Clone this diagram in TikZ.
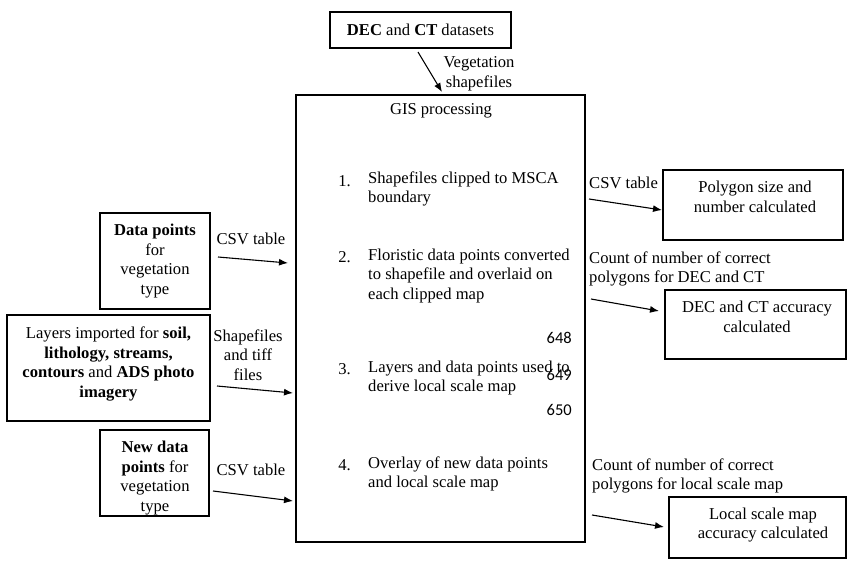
\documentclass[tikz,border=0pt]{standalone}
\usepackage{fontspec}
\setmainfont{Liberation Serif}
\newfontfamily\numfont{Carlito}
\usetikzlibrary{arrows.meta}
\begin{document}
\begin{tikzpicture}[x=1pt,y=-1pt,
  box/.style={draw, line width=1.2pt, inner sep=0pt},
  txt/.style={font=\fontsize{16.6}{19.5}\selectfont, inner sep=0pt, align=center},
  ltxt/.style={txt, align=left, anchor=west},
  arr/.style={line width=1.1pt, -{Latex[length=9pt,width=7pt]}},
  lnum/.style={font=\numfont\fontsize{16.5}{19}\selectfont, inner sep=0pt, anchor=east}]
\useasboundingbox (0,0) rectangle (847,563);
% boxes
\node[box, minimum width=289pt, minimum height=447pt] (gis) at (440.5,318.5) {};
\node[box, minimum width=181pt, minimum height=36pt] (dec) at (420.5,30) {};
\node[box, minimum width=110pt, minimum height=96pt] (dp) at (155,261) {};
\node[box, minimum width=203pt, minimum height=106pt] (lay) at (108.5,368) {};
\node[box, minimum width=109pt, minimum height=86pt] (ndp) at (154.5,473) {};
\node[box, minimum width=180pt, minimum height=70pt] (poly) at (753,205) {};
\node[box, minimum width=181pt, minimum height=69pt] (acc) at (755.5,324.5) {};
\node[box, minimum width=177pt, minimum height=61pt] (loc) at (757.5,527.5) {};
% box texts
\node[txt] (dect) at (dec) {\textbf{DEC} and \textbf{CT} datasets};
\node[txt] (dpt) at (155,261) {\textbf{Data points}\\for\\vegetation\\type};
\node[txt] (layt) at (108.5,364) {Layers imported for \textbf{soil,}\\\textbf{lithology, streams,}\\\textbf{contours} and \textbf{ADS photo}\\\textbf{imagery}};
\node[txt] (ndpt) at (155,478) {\textbf{New data}\\\textbf{points} for\\vegetation\\type};
\node[txt] (polyt) at (755,197) {Polygon size and\\number calculated};
\node[txt] (acct) at (757,317) {DEC and CT accuracy\\calculated};
\node[txt] (loct) at (763,525) {Local scale map\\accuracy calculated};
% GIS content
\node[txt] (gist) at (441,111) {GIS processing};
\node[txt, anchor=east] (n1) at (351,181) {1.};
\node[ltxt] (i1) at (368,189) {Shapefiles clipped to MSCA\\boundary};
\node[txt, anchor=east] (n2) at (351,257) {2.};
\node[ltxt] (i2) at (368,276) {Floristic data points converted\\to shapefile and overlaid on\\each clipped map};
\node[txt, anchor=east] (n3) at (351,369) {3.};
\node[ltxt] (i3) at (368,378) {Layers and data points used to\\derive local scale map};
\node[txt, anchor=east] (n4) at (351,465) {4.};
\node[ltxt] (i4) at (368,474) {Overlay of new data points\\and local scale map};
\node[lnum] (l648) at (572,338) {648};
\node[lnum] (l649) at (572,375) {649};
\node[lnum] (l650) at (572,410) {650};
% connector labels
\node[txt] (vs) at (479,74) {Vegetation\\shapefiles};
\node[txt] (csv1) at (251,239) {CSV table};
\node[txt] (stf) at (248,355) {Shapefiles\\and tiff\\files};
\node[txt] (csv2) at (251,470) {CSV table};
\node[ltxt] (csv3) at (589,183) {CSV table};
\node[ltxt] (cnt1) at (589,269) {Count of number of correct\\polygons for DEC and CT};
\node[ltxt] (cnt2) at (592,476) {Count of number of correct\\polygons for local scale map};
% arrow end points
\coordinate (a0s) at (418,52); \coordinate (a0e) at (442,92);
\coordinate (a1s) at (218,257); \coordinate (a1e) at (288,263);
\coordinate (a2s) at (217,386); \coordinate (a2e) at (293,393);
\coordinate (a3s) at (213,491); \coordinate (a3e) at (293,501);
\coordinate (a4s) at (589,199); \coordinate (a4e) at (662,210);
\coordinate (a5s) at (591,299); \coordinate (a5e) at (659,311);
\coordinate (a6s) at (592,515); \coordinate (a6e) at (664,527);
\draw[arr] (a0s) -- (a0e);
\draw[arr] (a1s) -- (a1e);
\draw[arr] (a2s) -- (a2e);
\draw[arr] (a3s) -- (a3e);
\draw[arr] (a4s) -- (a4e);
\draw[arr] (a5s) -- (a5e);
\draw[arr] (a6s) -- (a6e);
\end{tikzpicture}
\end{document}
